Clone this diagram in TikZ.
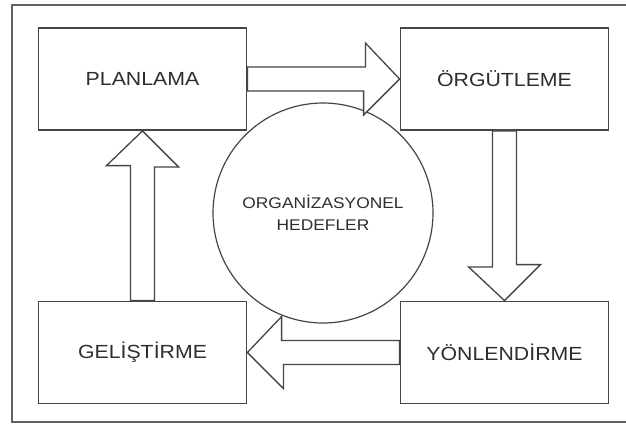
\documentclass[tikz,border=0pt]{standalone}
\usepackage{fontspec}
\newfontfamily\labfont[FakeStretch=1.12]{Liberation Sans}
\definecolor{linecol}{HTML}{454545}
\definecolor{textcol}{HTML}{2E2E2E}
\begin{document}
\begin{tikzpicture}[x=1pt,y=-1pt,
  stagebox/.style={draw=linecol,line width=1.8pt,fill=white,minimum width=208pt,minimum height=102pt,inner sep=0pt,
    font=\labfont\fontsize{19}{22}\selectfont,text=textcol},
  goalcircle/.style={circle,draw=linecol,line width=1.2pt,minimum size=220pt,inner sep=0pt,align=center,
    font=\labfont\fontsize{15.5}{22}\selectfont,text=textcol},
  bigarrow/.style={draw=linecol,line width=1.3pt,fill=white,line join=miter}]
\useasboundingbox (0,0) rectangle (626,424);
\clip (0,0) rectangle (626,424);
\fill[white] (0,0) rectangle (626,424);
\draw[linecol!85,line width=1.8pt] (12,5) rectangle (640,422);
\node[goalcircle] (goal) at (323,213) {ORGANİZASYONEL\\HEDEFLER};
\node[stagebox] (plan) at (142.5,79) {PLANLAMA};
\node[stagebox] (org) at (504.5,79) {ÖRGÜTLEME};
\node[stagebox] (gel) at (142.5,352.5) {GELİŞTİRME};
\node[stagebox] (yon) at (504.5,352.5) {YÖNLENDİRME};
% right arrow plan -> org
\draw[bigarrow] ([yshift=12pt]plan.east) -- ++(118,0) -- ++(0,-24) -- (org.west) -- ++(-36,36) -- ++(0,-24) -- ([yshift=-12pt]plan.east) -- cycle;
% down arrow org -> yon
\draw[bigarrow] ([xshift=-12pt]org.south) -- ++(0,136) -- ++(-24,0) -- (yon.north) -- ++(36,-36) -- ++(-24,0) -- ([xshift=12pt]org.south) -- cycle;
% left arrow yon -> gel
\draw[bigarrow] ([yshift=12pt]yon.west) -- ++(-118,0) -- ++(0,-24) -- (gel.east) -- ++(36,36) -- ++(0,-24) -- ([yshift=-12pt]yon.west) -- cycle;
% up arrow gel -> plan
\draw[bigarrow] ([xshift=-12pt]gel.north) -- ++(0,-135) -- ++(-24,0) -- (plan.south) -- ++(36,36) -- ++(-24,0) -- ([xshift=12pt]gel.north) -- cycle;
\end{tikzpicture}
\end{document}
